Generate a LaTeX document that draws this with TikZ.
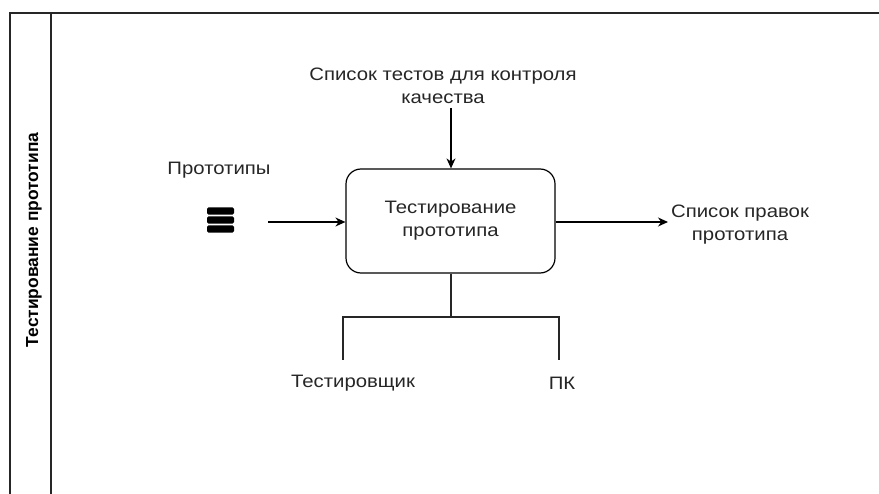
\documentclass[tikz,border=0pt]{standalone}
\usepackage{fontspec}
\setmainfont{Liberation Sans}
\newfontfamily\widefont[FakeStretch=1.13]{Liberation Sans}
\usetikzlibrary{arrows.meta}
\begin{document}
\begin{tikzpicture}[x=1pt,y=-1pt,
  lbl/.style={font=\widefont\fontsize{18}{23}\selectfont, text=black!85, align=center, inner sep=0pt},
  arr/.style={line width=1.2pt, -{Stealth[length=10pt,width=9pt]}},
  ln/.style={line width=1.2pt, draw=black!85},
  frame/.style={line width=1.5pt, draw=black!85}]
\useasboundingbox (0,0) rectangle (879,494);
% frame
\draw[frame] (10,494) -- (10,13) -- (879,13);
\draw[frame] (51,13) -- (51,494);
\node[inner sep=0pt, font=\fontsize{17.4}{20}\selectfont\bfseries, rotate=90] (lane) at (34,240) {Тестирование прототипа};
% main box
\node[draw, line width=1.2pt, rounded corners=15pt, minimum width=209pt, minimum height=104pt, lbl, inner sep=0pt] (box) at (450.5,221) {Тестирование\\прототипа};
% control
\node[lbl] (ctrl) at (443,86) {Список тестов для контроля\\качества};
\coordinate (ctop) at (451,108);
\draw[arr] (ctop) -- (ctop |- box.north);
% input
\node[lbl] (inl) at (219,170) {Прототипы};
\node[inner sep=0pt, minimum width=27pt, minimum height=25pt] (icon) at (220.5,220.5) {};
\foreach \yy in {211,220,229}
  \fill[rounded corners=1.5pt] (207,\yy-3.7) rectangle (234,\yy+3.7);
\coordinate (instart) at (268,222);
\draw[arr] (instart) -- (instart -| box.west);
% output
\node[lbl] (outl) at (740,225) {Список правок\\прототипа};
\coordinate (outend) at (668,222);
\draw[arr] (box.east |- outend) -- (outend);
% mechanisms
\coordinate (mj) at (451,317);
\coordinate (ml) at (343,317);
\coordinate (mr) at (559,317);
\coordinate (mlb) at (343,360);
\coordinate (mrb) at (559,360);
\node[lbl] (m1) at (353,383) {Тестировщик};
\node[lbl] (m2) at (562,383) {ПК};
\draw[ln] (box.south -| mj) -- (mj);
\draw[ln] (mlb) -- (ml) -- (mr) -- (mrb);
\end{tikzpicture}
\end{document}
